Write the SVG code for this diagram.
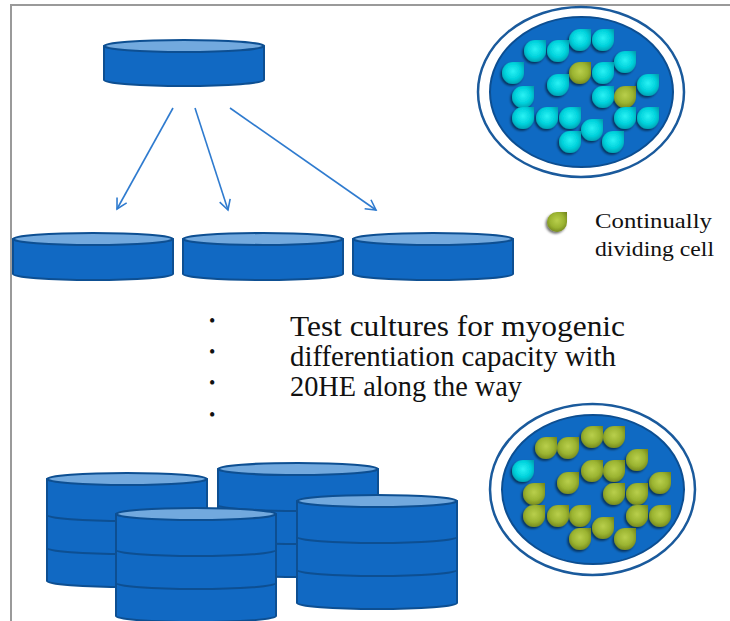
<svg xmlns="http://www.w3.org/2000/svg" xmlns:xlink="http://www.w3.org/1999/xlink" width="730" height="621" viewBox="0 0 730 621">
  <style>
    .frame { stroke: #9a9a9a; stroke-width: 2; fill: none; }
    .body { fill: #1169c3; stroke: #0d4f92; stroke-width: 2; stroke-linejoin: round; }
    .lid { fill: #72a9de; stroke: #0d4f92; stroke-width: 2.2; }
    .rim { fill: none; stroke: #0d4f92; stroke-width: 2; }
    .ring { fill: #ffffff; stroke: #1a5a9c; stroke-width: 2.5; }
    .plate { fill: #0f6ac3; stroke: #0c4e91; stroke-width: 2; }
    .arrow { stroke: #2f7bcf; stroke-width: 1.6; fill: none; marker-end: url(#chev); }
    .cy { fill: url(#gCyan); }
    .ol { fill: url(#gOlive); }
    .txt { font-family: "Liberation Serif", "Times New Roman", serif; fill: #111111; }
  </style>
  <defs>
    <marker id="chev" markerUnits="userSpaceOnUse" markerWidth="14" markerHeight="14" viewBox="-12 -7 14 14" refX="0" refY="0" orient="auto">
      <path d="M-10,-5.5 L0,0 L-10,5.5" fill="none" stroke="#2f7bcf" stroke-width="1.6"/>
    </marker>
    <radialGradient id="gCyan" cx="0.5" cy="0.42" r="0.6">
      <stop offset="0" stop-color="#2af2f4"/>
      <stop offset="0.6" stop-color="#00d2dc"/>
      <stop offset="1" stop-color="#009fb0"/>
    </radialGradient>
    <radialGradient id="gOlive" cx="0.5" cy="0.42" r="0.6">
      <stop offset="0" stop-color="#b9cf4c"/>
      <stop offset="0.6" stop-color="#9bb431"/>
      <stop offset="1" stop-color="#74871e"/>
    </radialGradient>
    <filter id="shade" x="-40%" y="-40%" width="180%" height="180%">
      <feDropShadow dx="-1.5" dy="1.8" stdDeviation="1.3" flood-color="#000000" flood-opacity="0.55"/>
    </filter>
    <!-- cell: rounded drop with a square top-right corner -->
    <path id="cell" d="M11,-11 V0 A11,11 0 1 1 0,-11 Z"/>
  </defs>

  <!-- page frame -->
  <path class="frame" d="M11,621 V5 H730"/>

  <!-- source dish -->
  <g id="dish-source">
    <path class="body" d="M104,46 V80 A80,6 0 0 0 264,80 V46 Z"/>
    <ellipse class="lid" cx="184" cy="46" rx="80" ry="6"/>
  </g>

  <!-- split dishes -->
  <g id="dish-1">
    <path class="body" d="M13,239 V274 A80,6 0 0 0 173,274 V239 Z"/>
    <ellipse class="lid" cx="93" cy="239" rx="80" ry="6"/>
  </g>
  <g id="dish-2">
    <path class="body" d="M183,239 V274 A80,6 0 0 0 343,274 V239 Z"/>
    <ellipse class="lid" cx="263" cy="239" rx="80" ry="6"/>
  </g>
  <g id="dish-3">
    <path class="body" d="M353,239 V274 A80,6 0 0 0 513,274 V239 Z"/>
    <ellipse class="lid" cx="433" cy="239" rx="80" ry="6"/>
  </g>

  <!-- connectors -->
  <g id="connectors">
    <line class="arrow" x1="173" y1="108" x2="117" y2="209"/>
    <line class="arrow" x1="195" y1="108" x2="228" y2="210"/>
    <line class="arrow" x1="230" y1="108" x2="376" y2="210"/>
  </g>

  <!-- stacked dish columns (back row first) -->
  <g id="stack-a">
    <path class="body" d="M47,479 V581 A80,6 0 0 0 207,581 V479 Z"/>
    <path class="rim" d="M47,515 A80,6 0 0 0 207,515 M47,548 A80,6 0 0 0 207,548"/>
    <ellipse class="lid" cx="127" cy="479" rx="80" ry="6"/>
  </g>
  <g id="stack-c">
    <path class="body" d="M218,469 V571 A80,6 0 0 0 378,571 V469 Z"/>
    <path class="rim" d="M218,505 A80,6 0 0 0 378,505 M218,538 A80,6 0 0 0 378,538"/>
    <ellipse class="lid" cx="298" cy="469" rx="80" ry="6"/>
  </g>
  <g id="stack-b">
    <path class="body" d="M116,514 V616 A80,6 0 0 0 276,616 V514 Z"/>
    <path class="rim" d="M116,550 A80,6 0 0 0 276,550 M116,583 A80,6 0 0 0 276,583"/>
    <ellipse class="lid" cx="196" cy="514" rx="80" ry="6"/>
  </g>
  <g id="stack-d">
    <path class="body" d="M297,501 V603 A80,6 0 0 0 457,603 V501 Z"/>
    <path class="rim" d="M297,537 A80,6 0 0 0 457,537 M297,570 A80,6 0 0 0 457,570"/>
    <ellipse class="lid" cx="377" cy="501" rx="80" ry="6"/>
  </g>

  <!-- plate view: early culture -->
  <g id="plate-early">
    <ellipse class="ring" cx="581" cy="92" rx="103" ry="85"/>
    <ellipse class="plate" cx="581.5" cy="92" rx="91.5" ry="75"/>
    <g filter="url(#shade)">
      <use xlink:href="#cell" class="cy" x="580" y="40"/>
      <use xlink:href="#cell" class="cy" x="603" y="40"/>
      <use xlink:href="#cell" class="cy" x="535" y="51"/>
      <use xlink:href="#cell" class="cy" x="558" y="51"/>
      <use xlink:href="#cell" class="cy" x="625" y="62"/>
      <use xlink:href="#cell" class="cy" x="513" y="73"/>
      <use xlink:href="#cell" class="ol" x="580" y="73"/>
      <use xlink:href="#cell" class="cy" x="603" y="73"/>
      <use xlink:href="#cell" class="cy" x="558" y="85"/>
      <use xlink:href="#cell" class="cy" x="648" y="85"/>
      <use xlink:href="#cell" class="cy" x="523" y="97"/>
      <use xlink:href="#cell" class="cy" x="603" y="97"/>
      <use xlink:href="#cell" class="ol" x="625" y="97"/>
      <use xlink:href="#cell" class="cy" x="523" y="118"/>
      <use xlink:href="#cell" class="cy" x="547" y="118"/>
      <use xlink:href="#cell" class="cy" x="570" y="118"/>
      <use xlink:href="#cell" class="cy" x="625" y="118"/>
      <use xlink:href="#cell" class="cy" x="648" y="118"/>
      <use xlink:href="#cell" class="cy" x="592" y="130"/>
      <use xlink:href="#cell" class="cy" x="570" y="142"/>
      <use xlink:href="#cell" class="cy" x="613" y="142"/>
    </g>
  </g>

  <!-- plate view: later culture -->
  <g id="plate-late">
    <ellipse class="ring" cx="592.5" cy="489.5" rx="102.5" ry="85.5"/>
    <ellipse class="plate" cx="593" cy="489.5" rx="91" ry="74.5"/>
    <g filter="url(#shade)">
      <use xlink:href="#cell" class="ol" x="592" y="437"/>
      <use xlink:href="#cell" class="ol" x="614" y="437"/>
      <use xlink:href="#cell" class="ol" x="546" y="448"/>
      <use xlink:href="#cell" class="ol" x="568" y="448"/>
      <use xlink:href="#cell" class="ol" x="637" y="460"/>
      <use xlink:href="#cell" class="cy" x="523" y="471"/>
      <use xlink:href="#cell" class="ol" x="592" y="471"/>
      <use xlink:href="#cell" class="ol" x="614" y="471"/>
      <use xlink:href="#cell" class="ol" x="568" y="483"/>
      <use xlink:href="#cell" class="ol" x="660" y="483"/>
      <use xlink:href="#cell" class="ol" x="534" y="494"/>
      <use xlink:href="#cell" class="ol" x="614" y="494"/>
      <use xlink:href="#cell" class="ol" x="637" y="494"/>
      <use xlink:href="#cell" class="ol" x="534" y="516"/>
      <use xlink:href="#cell" class="ol" x="558" y="516"/>
      <use xlink:href="#cell" class="ol" x="580" y="516"/>
      <use xlink:href="#cell" class="ol" x="637" y="516"/>
      <use xlink:href="#cell" class="ol" x="660" y="516"/>
      <use xlink:href="#cell" class="ol" x="603" y="528"/>
      <use xlink:href="#cell" class="ol" x="580" y="539"/>
      <use xlink:href="#cell" class="ol" x="625" y="539"/>
    </g>
  </g>

  <!-- legend -->
  <g id="legend">
    <g filter="url(#shade)">
      <path class="ol" d="M567,212 V222 A10,10 0 1 1 557,212 Z"/>
    </g>
    <text class="txt" x="595" y="228" font-size="22" textLength="117" lengthAdjust="spacingAndGlyphs">Continually</text>
    <text class="txt" x="595" y="256" font-size="22" textLength="119" lengthAdjust="spacingAndGlyphs">dividing cell</text>
  </g>

  <!-- notes -->
  <g id="notes">
    <text class="txt" x="209" y="327" font-size="18">•</text>
    <text class="txt" x="209" y="358" font-size="18">•</text>
    <text class="txt" x="209" y="389" font-size="18">•</text>
    <text class="txt" x="209" y="421" font-size="18">•</text>
    <text class="txt" x="290" y="336" font-size="30" textLength="335" lengthAdjust="spacingAndGlyphs">Test cultures for myogenic</text>
    <text class="txt" x="290" y="366" font-size="30" textLength="326" lengthAdjust="spacingAndGlyphs">differentiation capacity with</text>
    <text class="txt" x="290" y="396" font-size="30" textLength="232" lengthAdjust="spacingAndGlyphs">20HE along the way</text>
  </g>
</svg>
